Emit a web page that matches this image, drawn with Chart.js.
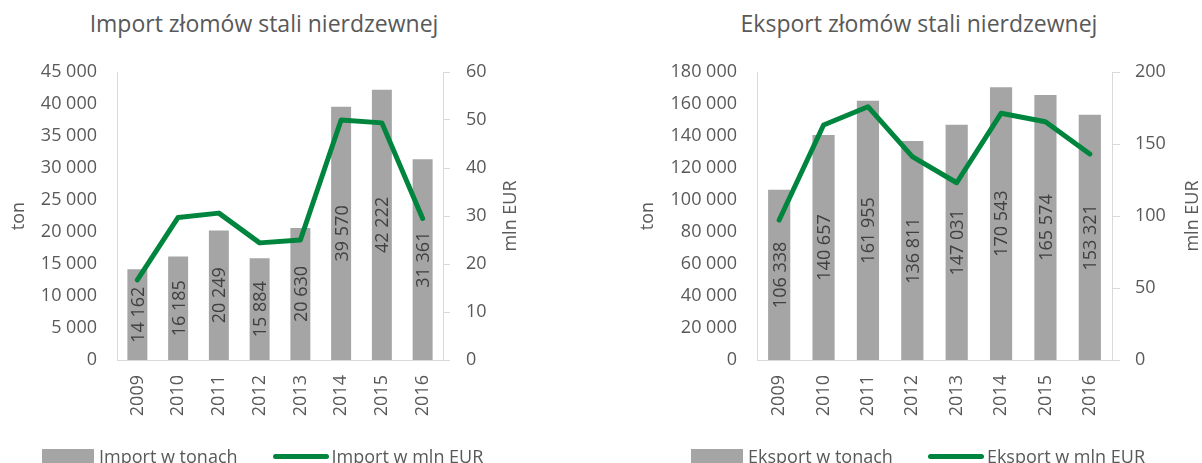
<!DOCTYPE html>
<html>
<head>
<meta charset="utf-8">
<script src="https://cdn.jsdelivr.net/npm/chart.js@4.4.1/dist/chart.umd.min.js"></script>
<style>
  html, body { margin:0; padding:0; background:#ffffff; }
  #wrap { position:relative; width:1202px; height:463px; overflow:hidden; background:#fff; font-family:"Open Sans", sans-serif; }
  canvas { position:absolute; top:0; }
  .title { position:absolute; top:7px; text-align:center; font-size:23px; color:#595959; white-space:nowrap; }
  .legend { position:absolute; top:444px; display:flex; align-items:flex-start; font-size:18px; line-height:24px; color:#595959; white-space:nowrap; }
  .legend .box { width:52px; height:20px; margin-top:5px; margin-right:5px; }
  .legend .ln { width:56px; height:5px; border-radius:3px; margin-top:10px; margin-right:3px; }
</style>
</head>
<body>
<div id="wrap">
  <div class="title" style="left:0px;width:528px;">Import złomów stali nierdzewnej</div>
  <div class="title" style="left:719px;width:400px;">Eksport złomów stali nierdzewnej</div>
  <canvas id="c1" width="600" height="463" style="left:0px;"></canvas>
  <canvas id="c2" width="620" height="463" style="left:600px;"></canvas>
  <div class="legend" id="leg1" style="left:42px;"></div>
  <div class="legend" id="leg2" style="left:691px;"></div>
</div>
<script>
// ---- data ----
const categories = ['2009', '2010', '2011', '2012', '2013', '2014', '2015', '2016'];
const importTons = [14162, 16185, 20249, 15884, 20630, 39570, 42222, 31361];
const importEUR  = [16.7, 29.7, 30.6, 24.4, 25.0, 50.0, 49.4, 29.5];
const exportTons = [106338, 140657, 161955, 136811, 147031, 170543, 165574, 153321];
const exportEUR  = [97.2, 163.2, 175.9, 141.2, 123.1, 171.3, 165.5, 143.1];

const importTonAxis = { max: 45000, step: 5000 };
const importEurAxis = { max: 60, step: 10 };
const exportTonAxis = { max: 180000, step: 20000 };
const exportEurAxis = { max: 200, step: 50 };

const GRAY = '#A5A5A5';
const GREEN = '#00853E';
const TEXT = '#595959';
const AXIS = '#D9D9D9';

function fmt(v) {
  return String(Math.round(v)).replace(/\B(?=(\d{3})+(?!\d))/g, ' ');
}

const barLabels = {
  id: 'barLabels',
  afterDatasetsDraw(chart) {
    const ctx = chart.ctx;
    chart.data.datasets.forEach((ds, i) => {
      if (ds.type !== 'bar') return;
      const meta = chart.getDatasetMeta(i);
      meta.data.forEach((el, j) => {
        const p = el.getProps(['x', 'y', 'base'], true);
        ctx.save();
        ctx.translate(p.x, (p.y + p.base) / 2);
        ctx.rotate(-Math.PI / 2);
        ctx.font = '18px "Open Sans"';
        ctx.fillStyle = '#404040';
        ctx.textAlign = 'center';
        ctx.textBaseline = 'alphabetic';
        ctx.fillText(fmt(ds.data[j]), 0, 6.4);
        ctx.restore();
      });
    });
  }
};

// right-axis title, drawn reading bottom-to-top like the left one
const rightTitle = {
  id: 'rightTitle',
  afterDraw(chart, args, opts) {
    const s = chart.scales.y1;
    if (!s || !opts.text) return;
    const ctx = chart.ctx;
    const ca = chart.chartArea;
    ctx.save();
    ctx.translate(s.right - opts.offset, (ca.top + ca.bottom) / 2);
    ctx.rotate(-Math.PI / 2);
    ctx.font = '18px "Open Sans"';
    ctx.fillStyle = TEXT;
    ctx.textAlign = 'center';
    ctx.textBaseline = 'middle';
    ctx.fillText(opts.text, 0, 0);
    ctx.restore();
  }
};

function makeChart(canvasId, cfg) {
  return new Chart(document.getElementById(canvasId), {
    type: 'bar',
    data: {
      labels: categories,
      datasets: [
        { type: 'line', label: cfg.lineLabel, data: cfg.lineData, yAxisID: 'y1',
          borderColor: GREEN, backgroundColor: GREEN, borderWidth: 5, pointRadius: 0,
          tension: 0, borderJoinStyle: 'round', borderCapStyle: 'round', order: 0 },
        { type: 'bar', label: cfg.barLabel, data: cfg.barData, yAxisID: 'y',
          backgroundColor: GRAY, barPercentage: cfg.barPct, categoryPercentage: 1, order: 1 }
      ]
    },
    options: {
      responsive: false,
      animation: false,
      devicePixelRatio: 1,
      layout: { padding: cfg.padding },
      plugins: {
        legend: { display: false }, title: { display: false }, tooltip: { enabled: false },
        rightTitle: { text: 'mln EUR', offset: cfg.y1TitleOffset }
      },
      scales: {
        x: {
          offset: true,
          grid: { display: false, drawTicks: false },
          border: { color: AXIS, width: 1 },
          ticks: { minRotation: 90, maxRotation: 90, autoSkip: false, padding: 15, color: TEXT, font: { size: 18 } },
          afterFit(s) { s.height = 103; }
        },
        y: {
          position: 'left', min: 0, max: cfg.yAxis.max,
          ticks: { stepSize: cfg.yAxis.step, padding: 20, color: TEXT, font: { size: 18 }, callback: (v) => fmt(v) },
          grid: { display: false, drawTicks: false },
          border: { color: AXIS, width: 1 },
          title: { display: true, text: 'ton', color: TEXT, font: { size: 18 }, padding: { top: cfg.yTitlePad, bottom: 0 } },
          afterFit(s) { s.width = cfg.yWidth; }
        },
        y1: {
          position: 'right', min: 0, max: cfg.y1Axis.max,
          ticks: { stepSize: cfg.y1Axis.step, padding: cfg.y1TickPad, color: TEXT, font: { size: 18 } },
          grid: { display: true, drawOnChartArea: false, drawTicks: true, tickLength: cfg.y1TickLen, color: AXIS },
          border: { color: AXIS, width: 1 },
          title: { display: false },
          afterFit(s) { s.width = cfg.y1Width; }
        }
      }
    },
    plugins: [barLabels, rightTitle]
  });
}

function buildLegend(chart, id) {
  const el = document.getElementById(id);
  const ds = chart.data.datasets;
  const bar = ds.find(d => d.type === 'bar');
  const line = ds.find(d => d.type === 'line');
  el.innerHTML =
    '<div class="box" style="background:' + bar.backgroundColor + '"></div>' +
    '<div style="margin-right:35px">' + bar.label + '</div>' +
    '<div class="ln" style="background:' + line.borderColor + '"></div>' +
    '<div>' + line.label + '</div>';
}

function build() {
  Chart.defaults.font.family = '"Open Sans", sans-serif';
  Chart.defaults.color = TEXT;
  const c1 = makeChart('c1', {
    lineLabel: 'Import w mln EUR', lineData: importEUR,
    barLabel: 'Import w tonach', barData: importTons, barPct: 0.49,
    padding: { left: 0, top: 72, right: 67, bottom: 0 },
    yAxis: importTonAxis, y1Axis: importEurAxis,
    yWidth: 117, yTitlePad: 8,
    y1Width: 90, y1TitleOffset: 22, y1TickPad: 16, y1TickLen: 7
  });
  const c2 = makeChart('c2', {
    lineLabel: 'Eksport w mln EUR', lineData: exportEUR,
    barLabel: 'Eksport w tonach', barData: exportTons, barPct: 0.5,
    padding: { left: 29, top: 72, right: 8, bottom: 0 },
    yAxis: exportTonAxis, y1Axis: exportEurAxis,
    yWidth: 128, yTitlePad: 8,
    y1Width: 100, y1TitleOffset: 19, y1TickPad: 15, y1TickLen: 8
  });
  buildLegend(c1, 'leg1');
  buildLegend(c2, 'leg2');
}

if (document.fonts && document.fonts.load) {
  Promise.all([
    document.fonts.load('18px "Open Sans"'),
    document.fonts.load('23px "Open Sans"')
  ]).then(build, build);
} else {
  build();
}
</script>
</body>
</html>
